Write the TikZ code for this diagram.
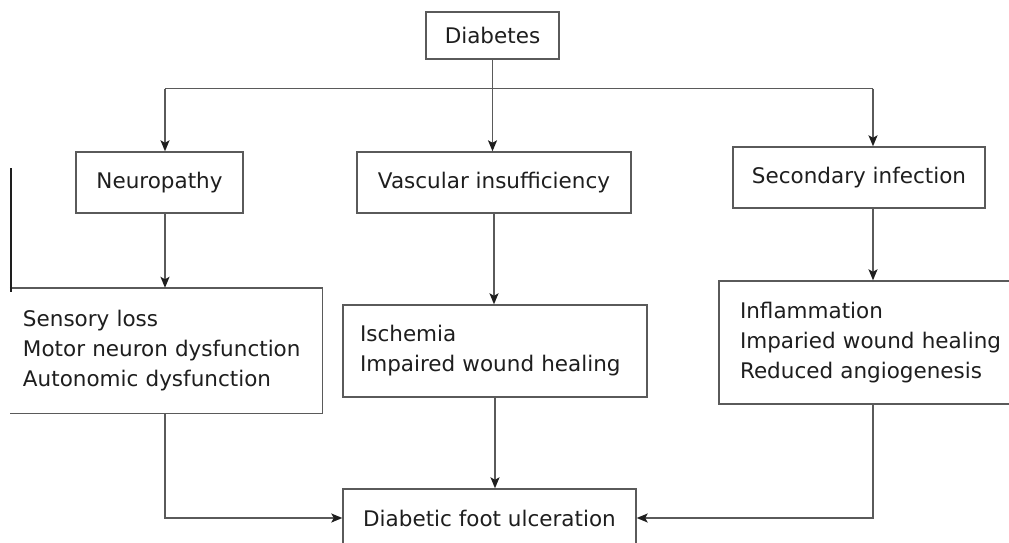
\documentclass[tikz,border=0pt]{standalone}
\usepackage{fontspec}
\setmainfont{DejaVu Sans}
\usetikzlibrary{arrows.meta}
\definecolor{lncol}{RGB}{90,90,90}
\definecolor{txcol}{RGB}{30,30,30}
\begin{document}
\begin{tikzpicture}[x=1pt,y=-1pt,
  box/.style={draw=lncol, line width=1.4pt, text=txcol, font=\fontsize{21.5}{30}\selectfont, inner sep=0pt},
  openbox/.style={text=txcol, font=\fontsize{21.5}{30}\selectfont, inner sep=0pt},
  arr/.style={draw=lncol, line width=1.4pt, -{Stealth[length=11pt,width=9pt,inset=2.5pt,color=txcol]}},
  plain/.style={draw=lncol, line width=1.4pt}]
\clip (0,0) rectangle (1009,543);
\fill[white] (0,0) rectangle (1009,543);

\node[box, minimum width=133, minimum height=47] (dia) at (492.5,35.5) {Diabetes};
\node[box, minimum width=167, minimum height=61] (neu) at (159.5,182.5) {Neuropathy};
\node[box, minimum width=274, minimum height=61] (vas) at (494,182.5) {Vascular insufficiency};
\node[box, minimum width=252, minimum height=61] (sec) at (859,177.5) {Secondary infection};

\node[openbox, text width=286, inner xsep=13, minimum height=125, align=left] (sen) at (166,350.5)
  {Sensory loss\\Motor neuron dysfunction\\Autonomic dysfunction};
\draw[plain] (sen.north west) -- (sen.north east) -- (sen.south east) -- (sen.south west);

\node[box, text width=270, inner xsep=17, minimum height=92, align=left] (isc) at (495,351)
  {Ischemia\\Impaired wound healing};
\node[box, text width=278, inner xsep=21, minimum height=123, align=left] (inf) at (879,342.5)
  {Inflammation\\Imparied wound healing\\Reduced angiogenesis};
\node[box, minimum width=293, minimum height=58] (ulc) at (489.5,518) {Diabetic foot ulceration};

\coordinate (jl) at (165,88.5);
\coordinate (jr) at (873,88.5);
\draw[plain] (jl) -- (jr);
\draw[arr] (dia.south) -- (dia.south |- vas.north);
\draw[arr] (jl) -- (jl |- neu.north);
\draw[arr] (jr) -- (jr |- sec.north);
\draw[arr] (jl |- neu.south) -- (jl |- sen.north);
\draw[arr] (vas.south) -- (vas.south |- isc.north);
\draw[arr] (jr |- sec.south) -- (jr |- inf.north);
\draw[arr] (isc.south) -- (isc.south |- ulc.north);
\draw[arr] (jl |- sen.south) |- (ulc.west);
\draw[arr] (jr |- inf.south) |- (ulc.east);

\coordinate (s1) at (11,168);
\coordinate (s2) at (11,292);
\draw[line width=1.6pt, draw=txcol] (s1) -- (s2);
\end{tikzpicture}
\end{document}
